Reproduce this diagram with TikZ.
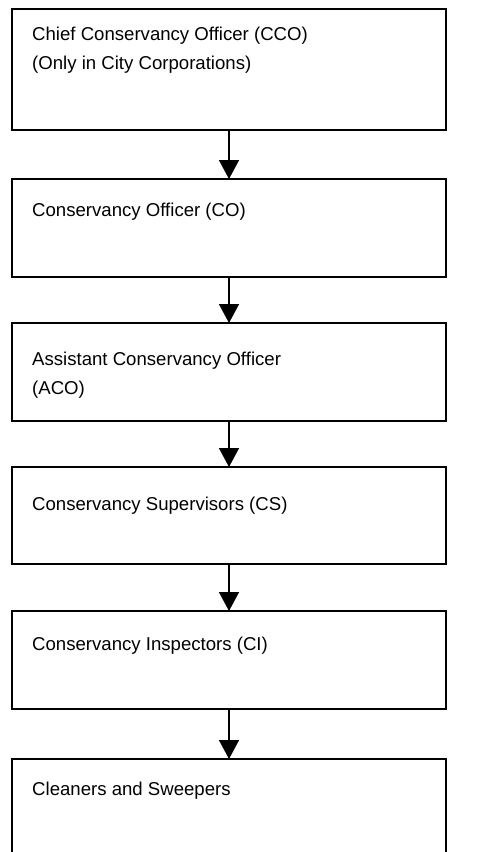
\documentclass[tikz,border=0pt]{standalone}
\usepackage{fontspec}
\setmainfont{Liberation Sans}
\usetikzlibrary{arrows.meta}
\begin{document}
\begin{tikzpicture}[x=1pt,y=-1pt,
  box/.style={draw=black,line width=1.5pt,rectangle,anchor=north west,minimum width=434pt,inner sep=0pt,outer sep=0pt},
  label/.style={anchor=base west,inner sep=0pt,font=\fontsize{18.6}{29.5}\selectfont},
  conn/.style={line width=1.5pt,-{Triangle[width=20pt,length=19pt]}}]
\useasboundingbox (0,0) rectangle (482,852);
\clip (0,0) rectangle (482,852);
\fill[white] (0,0) rectangle (482,852);
\node[box,minimum height=121pt] (b1) at (12,9) {};
\node[box,minimum height=98pt] (b2) at (12,179) {};
\node[box,minimum height=98pt] (b3) at (12,323) {};
\node[box,minimum height=97pt] (b4) at (12,467) {};
\node[box,minimum height=98pt] (b5) at (12,611) {};
\node[box,minimum height=130pt] (b6) at (12,759) {};
\node[label] (t1a) at (32,40) {Chief Conservancy Officer (CCO)};
\node[label] (t1b) at (32,69) {(Only in City Corporations)};
\node[label] (t2) at (32,216) {Conservancy Officer (CO)};
\node[label] (t3a) at (32,365) {Assistant Conservancy Officer};
\node[label] (t3b) at (32,394) {(ACO)};
\node[label] (t4) at (32,510) {Conservancy Supervisors (CS)};
\node[label] (t5) at (32,650) {Conservancy Inspectors (CI)};
\node[label] (t6) at (32,795) {Cleaners and Sweepers};
\draw[conn] (b1.south) -- (b2.north);
\draw[conn] (b2.south) -- (b3.north);
\draw[conn] (b3.south) -- (b4.north);
\draw[conn] (b4.south) -- (b5.north);
\draw[conn] (b5.south) -- (b6.north);
\end{tikzpicture}
\end{document}
